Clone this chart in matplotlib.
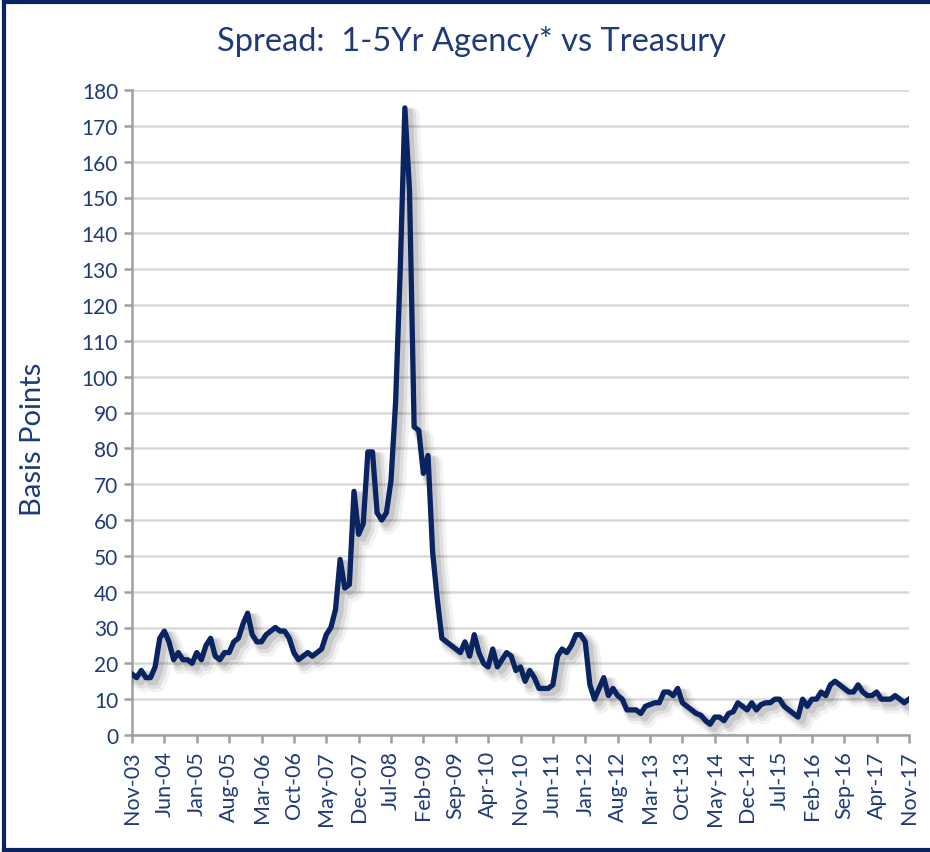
import matplotlib
matplotlib.use('Agg')
import matplotlib.pyplot as plt
import matplotlib.patheffects as pe
from matplotlib.lines import Line2D

# Monthly spread in basis points, Nov-03 through Nov-17
months_start = 'Nov-03'
spread_bp = [
    17, 16, 18, 16, 16, 19, 27, 29, 26, 21, 23, 21, 21, 20, 23, 21, 25, 27, 22, 21,
    23, 23, 26, 27, 31, 34, 28, 26, 26, 28, 29, 30, 29, 29, 27, 23, 21, 22, 23, 22,
    23, 24, 28, 30, 35, 49, 41, 42, 68, 56, 59, 79, 79, 62, 60, 62, 71, 93, 130, 175,
    152, 86, 85, 73, 78, 51, 38, 27, 26, 25, 24, 23, 26, 22, 28, 23, 20, 19, 24, 19,
    21, 23, 22, 18, 19, 15, 18, 16, 13, 13, 13, 14, 22, 24, 23, 25, 28, 28, 26, 14,
    10, 13, 16, 11, 13, 11, 10, 7, 7, 7, 6, 8, 8.5, 9, 9, 12, 12, 11, 13, 9,
    8, 7, 6, 5.5, 4, 3, 5, 5, 4, 6, 6.5, 9, 8, 7, 9, 7, 8.5, 9, 9, 10,
    10, 8, 7, 6, 5, 10, 8, 10, 10, 12, 11, 14, 15, 14, 13, 12, 12, 14, 12, 11,
    11, 12, 10, 10, 10, 11, 10, 9, 10,
]

tick_labels = [
    'Nov-03', 'Jun-04', 'Jan-05', 'Aug-05', 'Mar-06', 'Oct-06', 'May-07', 'Dec-07',
    'Jul-08', 'Feb-09', 'Sep-09', 'Apr-10', 'Nov-10', 'Jun-11', 'Jan-12', 'Aug-12',
    'Mar-13', 'Oct-13', 'May-14', 'Dec-14', 'Jul-15', 'Feb-16', 'Sep-16', 'Apr-17',
    'Nov-17',
]
tick_step = 7  # months between labels

navy = '#0a2361'
text_col = '#1f3a78'
grid_col = '#d9d9d9'
axis_col = '#a0a0a0'

plt.rcParams['font.family'] = ['Lato', 'DejaVu Sans']

fig = plt.figure(figsize=(9.3, 8.53), dpi=100)
ax = fig.add_axes([132 / 930, 1 - 736 / 853, (909 - 132) / 930, (736 - 91) / 853])

x = list(range(len(spread_bp)))
ax.plot(x, spread_bp, color=navy, lw=3.8, solid_joinstyle='round', zorder=3,
        path_effects=[
            pe.SimpleLineShadow(offset=(5, -5), shadow_color='#000000', alpha=0.05, linewidth=11),
            pe.SimpleLineShadow(offset=(4, -4), shadow_color='#000000', alpha=0.08, linewidth=8),
            pe.SimpleLineShadow(offset=(3, -3), shadow_color='#000000', alpha=0.10, linewidth=5),
            pe.Normal(),
        ])

ax.set_xlim(0, len(spread_bp) - 1)
ax.set_ylim(0, 180)
ax.set_yticks(range(0, 181, 10))
ax.set_xticks(range(0, len(spread_bp), tick_step))
ax.set_xticklabels(tick_labels, rotation=90)

ax.grid(axis='y', color=grid_col, lw=1.8)
ax.set_axisbelow(True)
for side in ['top', 'right']:
    ax.spines[side].set_visible(False)
for side in ['left', 'bottom']:
    ax.spines[side].set_color(axis_col)
    ax.spines[side].set_linewidth(1.8)

ax.tick_params(axis='both', colors=axis_col, width=1.8, length=6, labelcolor=text_col,
               labelsize=15)
ax.tick_params(axis='x', pad=5, labelsize=15.5)
ax.tick_params(axis='y', pad=4)

# y label sits a little below the axes centre
fig.text(33 / 930, 1 - 439 / 853, 'Basis Points', rotation=90, ha='center', va='center',
         fontsize=21, color=text_col)
fig.text(0.507, 0.951, 'Spread:  1-5Yr Agency* vs Treasury', ha='center', va='center',
         fontsize=23.5, color=text_col)

# Frame around the figure
for xs, ys in [([0.004, 0.004], [0.002, 0.997]),
               ([0.004, 1.0], [0.997, 0.997]),
               ([0.004, 1.0], [0.002, 0.002])]:
    fig.add_artist(Line2D(xs, ys, transform=fig.transFigure, color=navy, lw=3))

fig.savefig('out.png', dpi=100)
